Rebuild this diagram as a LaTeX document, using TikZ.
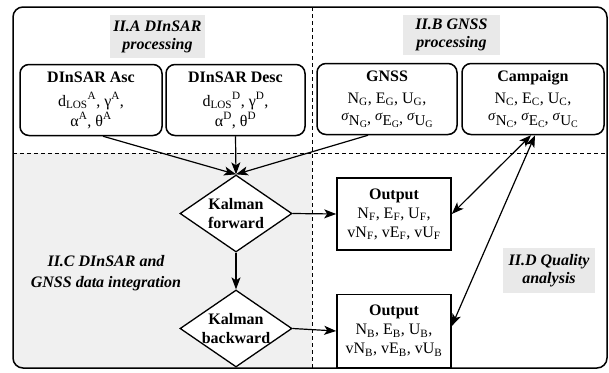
\documentclass[tikz,border=0pt]{standalone}
\usepackage{fontspec}
\setmainfont{Liberation Serif}
\usetikzlibrary{shapes.geometric,arrows.meta}
\definecolor{zone}{RGB}{240,240,240}
\definecolor{tag}{RGB}{233,233,233}
% sub- and superscript helpers
\newcommand{\dsb}[1]{\textsubscript{#1}}
\newcommand{\dsp}[1]{\textsuperscript{#1}}
% standard deviation: raised sigma, component letter and station subscript
\newcommand{\sdev}[2]{\raisebox{2.5pt}{\fontsize{14.5}{14}\selectfont\textit{σ}}\raisebox{-2pt}{\fontsize{15}{15}\selectfont #1\raisebox{-2.5pt}{\fontsize{10}{10}\selectfont #2}}}
\begin{document}
\begin{tikzpicture}[x=1pt,y=-1pt,
  every node/.style={font=\fontsize{16}{19}\selectfont, inner sep=0pt},
  databox/.style={draw, line width=1.5pt, rounded corners=9pt, fill=white, align=center, minimum height=71pt,
    font=\fontsize{16}{20}\selectfont},
  outbox/.style={draw, line width=1.6pt, fill=white, align=center, minimum width=114pt, minimum height=72pt},
  kalman/.style={draw, diamond, line width=1.3pt, fill=white, minimum width=112pt, minimum height=77pt},
  kaltext/.style={font=\fontsize{16}{19}\selectfont\bfseries, align=center},
  tagbox/.style={fill=tag, align=center, font=\fontsize{16}{19}\selectfont\bfseries\itshape},
  flow/.style={line width=1.2pt, -{Stealth[length=12pt,width=9pt,inset=3pt]}},
  twoway/.style={line width=1.2pt, {Stealth[length=12pt,width=9pt,inset=3pt]}-{Stealth[length=12pt,width=9pt,inset=3pt]}},
  divider/.style={line width=0.8pt, dash pattern=on 4pt off 3pt}]
\useasboundingbox (0,0) rectangle (609,372);

% shaded integration quadrant
\begin{scope}
  \clip[rounded corners=10pt] (13,7) rectangle (607,368);
  \fill[zone] (13,153) rectangle (312,368);
\end{scope}

% quadrant dividers and frame
\draw[divider] (13,153) -- (607,153);
\draw[divider] (312,7) -- (312,368);
\draw[line width=1.5pt, rounded corners=10pt] (13,7) rectangle (607,368);

% section labels
\node[tagbox, minimum width=95pt, minimum height=43pt] (tagA) at (157.5,36.5) {II.A DInSAR\\[-1pt]processing};
\node[tagbox, minimum width=97pt, minimum height=40pt] (tagB) at (451.5,35) {II.B GNSS\\[-1pt]processing};
\node[tagbox, minimum width=92pt, minimum height=45pt] (tagD) at (549,270.5) {II.D Quality\\[-1pt]analysis};
\node[tagbox, fill=none] (tagC) at (106,273) {II.C DInSAR and\\[2pt]GNSS data integration};

% input data boxes
\node[databox, minimum width=142pt] (asc) at (91,100)
  {\textbf{DInSAR Asc}\\[4pt]d\dsb{LOS}\dsp{A}, γ\dsp{A},\\α\dsp{A}, θ\dsp{A}};
\node[databox, minimum width=139pt] (desc) at (235.5,100)
  {\textbf{DInSAR Desc}\\[4pt]d\dsb{LOS}\dsp{D}, γ\dsp{D},\\α\dsp{D}, θ\dsp{D}};
\node[databox, minimum width=140pt] (gnss) at (387,99)
  {\textbf{GNSS}\\[2pt]N\dsb{G}, E\dsb{G}, U\dsb{G},\\\sdev{N}{G}, \sdev{E}{G}, \sdev{U}{G}};
\node[databox, minimum width=142pt] (camp) at (533,99)
  {\textbf{Campaign}\\[2pt]N\dsb{C}, E\dsb{C}, U\dsb{C},\\\sdev{N}{C}, \sdev{E}{C}, \sdev{U}{C}};

% Kalman filter passes
\node[kalman, label={[kaltext]center:Kalman\\forward}] (kf) at (236,213.5) {};
\node[kalman, label={[kaltext]center:Kalman\\backward}] (kb) at (236,328.5) {};

% filter outputs
\node[outbox] (outF) at (394,214)
  {\textbf{Output}\\N\dsb{F}, E\dsb{F}, U\dsb{F},\\vN\dsb{F}, vE\dsb{F}, vU\dsb{F}};
\node[outbox, minimum height=73pt] (outB) at (394,331)
  {\textbf{Output}\\N\dsb{B}, E\dsb{B}, U\dsb{B},\\vN\dsb{B}, vE\dsb{B}, vU\dsb{B}};

% data flow
\draw[flow] ([xshift=12pt]asc.south) -- (kf.north);
\draw[flow] (desc.south) -- (kf.north);
\draw[flow] ([xshift=-19pt]gnss.south) -- (kf.north);
\draw[flow] (kf.east) -- (outF.west);
\draw[flow] (kf.south) -- (kb.north);
\draw[flow] (kb.east) -- (outB.west);

% quality comparison against campaign data
\draw[twoway] ([xshift=-2pt]camp.south) -- (outF.east);
\draw[twoway] ([xshift=2pt]camp.south) -- ([yshift=5pt]outB.east);
\end{tikzpicture}
\end{document}
